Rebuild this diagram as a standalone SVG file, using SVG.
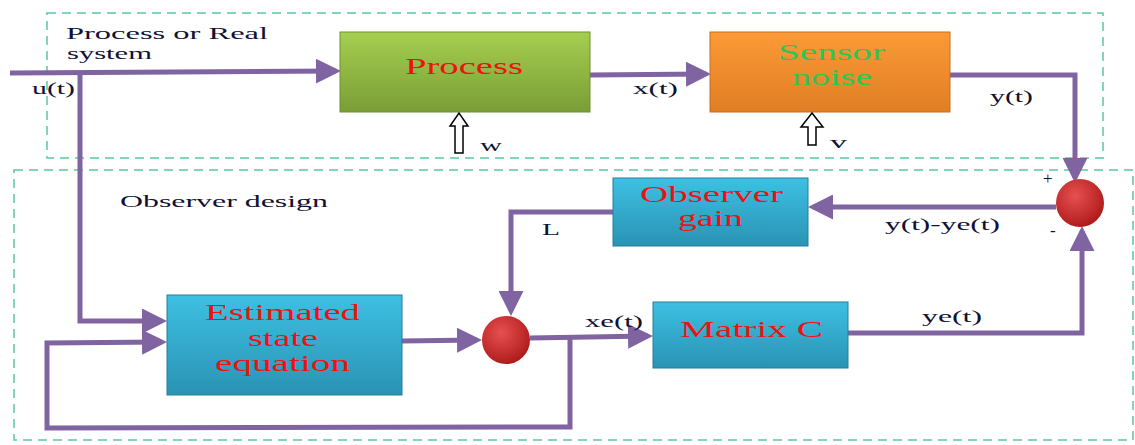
<svg xmlns="http://www.w3.org/2000/svg" width="1135" height="445" viewBox="0 0 1135 445">
<style>
.frame{fill:none;stroke:#5cc79a;stroke-width:1.5;stroke-dasharray:9,6}
.wire{fill:none;stroke:#8064a2;stroke-width:5;stroke-linejoin:miter}
.lbl{font-family:"Liberation Serif",serif;font-size:17px;fill:#111133}
.big{font-family:"Liberation Serif",serif;font-size:23px;fill:#ee1111}
.grn{fill:#2ec457}
.noise{fill:#fff;stroke:#000;stroke-width:1.5}
</style>
<defs>
<linearGradient id="gG" x1="0" y1="0" x2="0" y2="1"><stop offset="0" stop-color="#a5cf50"/><stop offset="1" stop-color="#7a9d36"/></linearGradient>
<linearGradient id="gO" x1="0" y1="0" x2="0" y2="1"><stop offset="0" stop-color="#fb9a36"/><stop offset="1" stop-color="#e07e24"/></linearGradient>
<linearGradient id="gB" x1="0" y1="0" x2="0" y2="1"><stop offset="0" stop-color="#3dc0e2"/><stop offset="1" stop-color="#2a93b4"/></linearGradient>
<radialGradient id="gR" cx="0.4" cy="0.35" r="0.65"><stop offset="0" stop-color="#e85050"/><stop offset="1" stop-color="#b01c1c"/></radialGradient>
<marker id="ah" markerWidth="5" markerHeight="5" refX="4" refY="2.5" orient="auto" markerUnits="strokeWidth"><path d="M0,0 L5,2.5 L0,5 z" fill="#8064a2"/></marker>
</defs>

<rect class="frame" x="47" y="13" width="1056" height="145"/>
<rect class="frame" x="14" y="170" width="1119" height="270"/>
<text class="lbl" x="66" y="39" textLength="202" lengthAdjust="spacingAndGlyphs">Process or Real</text>
<text class="lbl" x="67" y="59" textLength="85" lengthAdjust="spacingAndGlyphs">system</text>
<text class="lbl" x="120" y="207" textLength="208" lengthAdjust="spacingAndGlyphs">Observer design</text>

<g id="connectors">
<path class="wire" d="M10,73 L336,71" marker-end="url(#ah)"/>
<path class="wire" d="M80,73 L80,321 L162,321" marker-end="url(#ah)"/>
<path class="wire" d="M590,75 L706,74" marker-end="url(#ah)"/>
<path class="wire" d="M950,75 L1075,75 L1075,178" marker-end="url(#ah)"/>
<path class="wire" d="M1056,207 L813,207" marker-end="url(#ah)"/>
<path class="wire" d="M613,212 L511,212 L511,311" marker-end="url(#ah)"/>
<path class="wire" d="M402,341 L477,340" marker-end="url(#ah)"/>
<path class="wire" d="M530,338 L648,336" marker-end="url(#ah)"/>
<path class="wire" d="M570,338 L570,427 L47,428 L47,343 L162,342" marker-end="url(#ah)"/>
<path class="wire" d="M848,333 L1082,333 L1082,231" marker-end="url(#ah)"/>
</g>

<g id="process">
<rect x="340" y="32" width="250" height="80" fill="url(#gG)" stroke="#6e8f30" stroke-width="1"/>
<text class="big" x="405" y="74" textLength="118" lengthAdjust="spacingAndGlyphs">Process</text>
</g>
<g id="sensor-noise">
<rect x="710" y="32" width="240" height="80" fill="url(#gO)" stroke="#c86e1e" stroke-width="1"/>
<text class="big grn" x="778" y="60" textLength="107" lengthAdjust="spacingAndGlyphs">Sensor</text>
<text class="big grn" x="792" y="85" textLength="80" lengthAdjust="spacingAndGlyphs">noise</text>
</g>
<g id="observer-gain">
<rect x="613" y="178" width="195" height="68" fill="url(#gB)" stroke="#247f9c" stroke-width="1"/>
<text class="big" x="640" y="202" textLength="143" lengthAdjust="spacingAndGlyphs">Observer</text>
<text class="big" x="678" y="226" textLength="65" lengthAdjust="spacingAndGlyphs">gain</text>
</g>
<g id="estimated-state">
<rect x="167" y="295" width="235" height="100" fill="url(#gB)" stroke="#247f9c" stroke-width="1"/>
<text class="big" x="205" y="320" textLength="155" lengthAdjust="spacingAndGlyphs">Estimated</text>
<text class="big" x="248" y="346" textLength="70" lengthAdjust="spacingAndGlyphs">state</text>
<text class="big" x="215" y="371" textLength="135" lengthAdjust="spacingAndGlyphs">equation</text>
</g>
<g id="matrix-c">
<rect x="653" y="302" width="195" height="66" fill="url(#gB)" stroke="#247f9c" stroke-width="1"/>
<text class="big" x="680" y="337" textLength="143" lengthAdjust="spacingAndGlyphs">Matrix C</text>
</g>
<g id="sum-estimate">
<circle cx="506" cy="340" r="24" fill="url(#gR)"/>
</g>
<g id="sum-error">
<circle cx="1080" cy="203" r="24" fill="url(#gR)"/>
</g>

<g id="w-noise">
<path class="noise" d="M455,153 L455,126 L450,126 L459,113 L468,126 L463,126 L463,153 z"/>
<text class="lbl" x="480" y="151" textLength="22" lengthAdjust="spacingAndGlyphs">w</text>
</g>
<g id="v-noise">
<path class="noise" d="M808,145 L808,127 L801,127 L812,113 L823,127 L816,127 L816,145 z"/>
<text class="lbl" x="830" y="148" textLength="17" lengthAdjust="spacingAndGlyphs">v</text>
</g>

<text class="lbl" x="32" y="94" textLength="43" lengthAdjust="spacingAndGlyphs">u(t)</text>
<text class="lbl" x="633" y="94" textLength="45" lengthAdjust="spacingAndGlyphs">x(t)</text>
<text class="lbl" x="990" y="102" textLength="43" lengthAdjust="spacingAndGlyphs">y(t)</text>
<text class="lbl" x="1043" y="184">+</text>
<text class="lbl" x="1050" y="236">-</text>
<text class="lbl" x="885" y="230" textLength="115" lengthAdjust="spacingAndGlyphs">y(t)-ye(t)</text>
<text class="lbl" x="542" y="235" textLength="18" lengthAdjust="spacingAndGlyphs">L</text>
<text class="lbl" x="585" y="327" textLength="58" lengthAdjust="spacingAndGlyphs">xe(t)</text>
<text class="lbl" x="922" y="322" textLength="60" lengthAdjust="spacingAndGlyphs">ye(t)</text>
</svg>
